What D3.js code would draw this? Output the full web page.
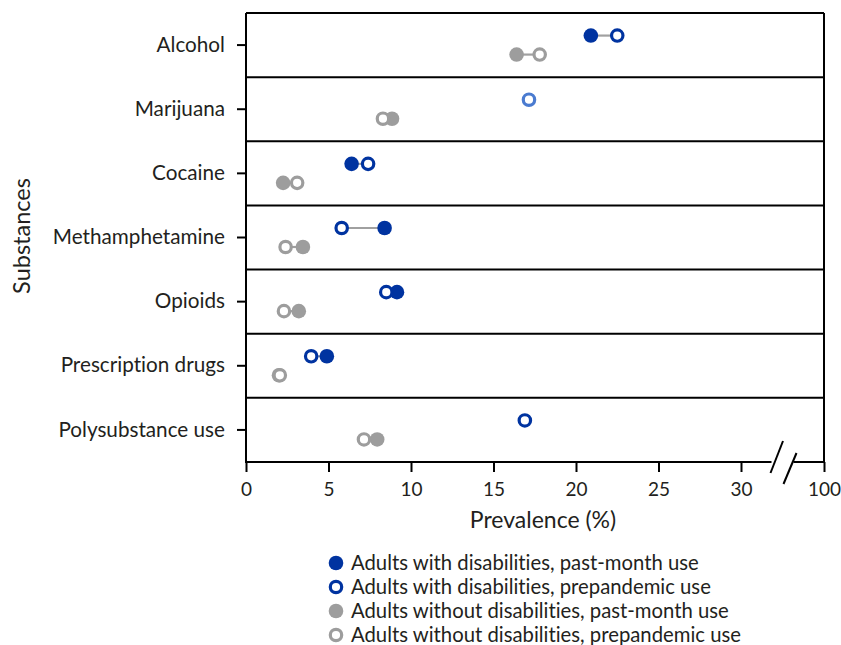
<!DOCTYPE html>
<html><head><meta charset="utf-8">
<script src="https://cdn.jsdelivr.net/npm/d3@7"></script>
<style>
body{margin:0;background:#fff;}
text{font-family:"Lato",sans-serif;fill:#231f20;font-variant-ligatures:none;font-feature-settings:"liga" 0;}
</style></head>
<body><svg id="c" width="841" height="645"></svg>
<script>
const categories = ["Alcohol","Marijuana","Cocaine","Methamphetamine","Opioids","Prescription drugs","Polysubstance use"];
const withPastMonth      = [20.9, null, 6.4, 8.4, 9.15, 4.9, null];
const withPrepandemic    = [22.5, 17.15, 7.4, 5.8, 8.5, 3.95, 16.9];
const withoutPastMonth   = [16.4, 8.85, 2.25, 3.45, 3.2, 2.0, 7.95];
const withoutPrepandemic = [17.8, 8.3, 3.1, 2.4, 2.3, 2.05, 7.15];
const xTicks = [0,5,10,15,20,25,30,100];
const legendLabels = ["Adults with disabilities, past-month use","Adults with disabilities, prepandemic use","Adults without disabilities, past-month use","Adults without disabilities, prepandemic use"];

const BLUE="#0033a0", LIGHTBLUE="#4a7bd0", GREY="#9d9d9d";
const lightOpen = new Set(["Marijuana"]);

const L=246,R=824,T=13,B=462;
const svg=d3.select("#c");
const x=d3.scaleLinear().domain([0,30,100]).range([L,741,R]);
const y=d3.scaleBand().domain(categories).range([T,B]).padding(0);
const bw=y.bandwidth();

svg.append("g").selectAll("line").data(categories.slice(1)).join("line")
  .attr("x1",L).attr("x2",R).attr("y1",d=>y(d)).attr("y2",d=>y(d))
  .attr("stroke","#000").attr("stroke-width",2);
svg.append("line").attr("x1",L).attr("x2",R).attr("y1",T).attr("y2",T).attr("stroke","#000").attr("stroke-width",2);
svg.append("line").attr("x1",R).attr("x2",R).attr("y1",T).attr("y2",B).attr("stroke","#000").attr("stroke-width",2);

const ya=svg.append("g").attr("transform",`translate(${L},0)`).call(d3.axisLeft(y).tickSize(9).tickPadding(12));
ya.select(".domain").attr("stroke","#000").attr("stroke-width",2).attr("d",`M0,${T}V${B}`);
ya.selectAll(".tick line").attr("stroke","#000").attr("stroke-width",2);
ya.selectAll(".tick text").style("font-size","20.7px").style("font-family","Lato").attr("fill","#231f20");

const xa=svg.append("g").attr("transform",`translate(0,${B})`).call(d3.axisBottom(x).tickValues(xTicks).tickSize(10).tickPadding(11).tickFormat(d3.format("d")));
xa.select(".domain").remove();
xa.selectAll(".tick line").attr("stroke","#000").attr("stroke-width",2);
xa.selectAll(".tick text").style("font-size","19px").style("font-family","Lato").attr("fill","#231f20");
const bc=(x(30)+x(100))/2;
xa.append("line").attr("x1",L-1).attr("x2",bc-11).attr("y1",0).attr("y2",0).attr("stroke","#000").attr("stroke-width",2);
xa.append("line").attr("x1",bc+11).attr("x2",R+1).attr("y1",0).attr("y2",0).attr("stroke","#000").attr("stroke-width",2);
xa.append("line").attr("x1",bc-12).attr("y1",11).attr("x2",bc+0.5).attr("y2",-21).attr("stroke","#000").attr("stroke-width",2);
xa.append("line").attr("x1",bc+1).attr("y1",22).attr("x2",bc+14).attr("y2",-9).attr("stroke","#000").attr("stroke-width",2);

svg.append("text").attr("x",543).attr("y",528).attr("text-anchor","middle").style("font-size","23px").text("Prevalence (%)");
svg.append("text").attr("transform","translate(30,236) rotate(-90)").attr("text-anchor","middle").style("font-size","23.5px").text("Substances");

const groups=[
  {past:withPastMonth, pre:withPrepandemic, color:BLUE, dy:-9.5},
  {past:withoutPastMonth, pre:withoutPrepandemic, color:GREY, dy:9.5}
];
const r=7.3;
groups.forEach(g=>{
  const gg=svg.append("g");
  const rows=categories.map((c,i)=>({c,past:g.past[i],pre:g.pre[i]}));
  const cy=d=>y(d.c)+bw/2+g.dy;
  gg.selectAll("line.conn").data(rows.filter(d=>d.past!=null&&d.pre!=null)).join("line")
    .attr("x1",d=>x(d.past)).attr("x2",d=>x(d.pre)).attr("y1",cy).attr("y2",cy)
    .attr("stroke","#a0a0a0").attr("stroke-width",2.2);
  gg.selectAll("circle.past").data(rows.filter(d=>d.past!=null)).join("circle")
    .attr("cx",d=>x(d.past)).attr("cy",cy).attr("r",r).attr("fill",g.color);
  gg.selectAll("circle.pre").data(rows.filter(d=>d.pre!=null)).join("circle")
    .attr("cx",d=>x(d.pre)).attr("cy",cy).attr("r",r-1.6).attr("fill","#fff")
    .attr("stroke",d=>(g.color===BLUE&&lightOpen.has(d.c))?LIGHTBLUE:g.color).attr("stroke-width",3.2);
});

const lg=svg.append("g");
legendLabels.forEach((t,i)=>{
  const ly=563+i*24;
  const col=i<2?BLUE:GREY;
  if(i%2===0) lg.append("circle").attr("cx",336).attr("cy",ly).attr("r",r).attr("fill",col);
  else lg.append("circle").attr("cx",336).attr("cy",ly).attr("r",r-1.6).attr("fill","#fff").attr("stroke",col).attr("stroke-width",3.2);
  lg.append("text").attr("x",351).attr("y",ly+7).style("font-size","20.3px").text(t);
});
</script></body></html>
